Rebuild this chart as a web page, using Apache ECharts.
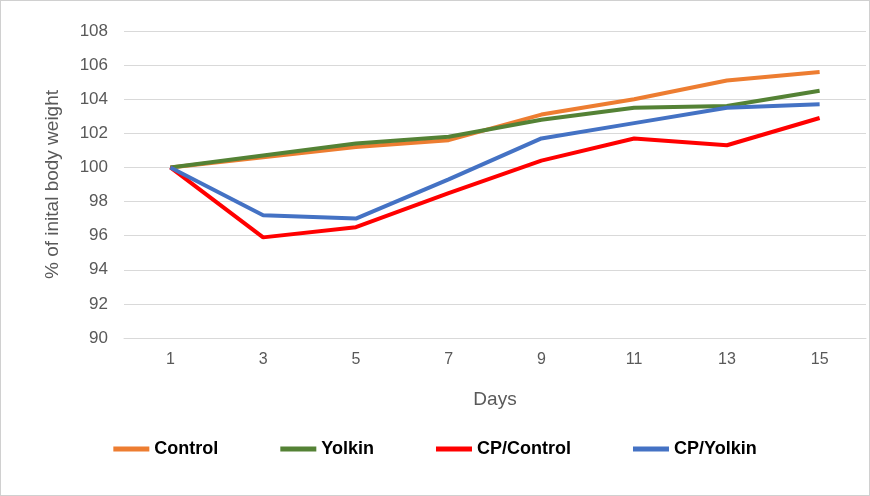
<!DOCTYPE html>
<html>
<head>
<meta charset="utf-8">
<script src="https://cdn.jsdelivr.net/npm/echarts@6/dist/echarts.min.js"></script>
<style>
  html, body { margin: 0; padding: 0; background: #fff; }
  #chart { width: 868px; height: 494px; border: 1px solid #d0d0d0; }
</style>
</head>
<body>
<div id="chart"></div>
<script>
const days = ['1', '3', '5', '7', '9', '11', '13', '15']
const control = [100, 100.6, 101.2, 101.6, 103.1, 104.0, 105.1, 105.6]
const yolkin = [100, 100.7, 101.4, 101.8, 102.8, 103.5, 103.6, 104.5]
const cpControl = [100, 95.9, 96.5, 98.5, 100.4, 101.7, 101.3, 102.9]
const cpYolkin = [100, 97.2, 97.0, 99.3, 101.7, 102.6, 103.5, 103.7]

const myChart = echarts.init(document.getElementById('chart'))
const line = (name, data, color) => ({
  name,
  type: 'line',
  data,
  symbol: 'none',
  lineStyle: { width: 4, color },
  itemStyle: { color },
})
const option = {
  animation: false,
  textStyle: { fontFamily: 'Liberation Sans, Arial, sans-serif' },
  grid: { left: 123, right: 3, top: 30, bottom: 157 },
  legend: {
    bottom: 32,
    left: 'center',
    itemGap: 62,
    itemWidth: 36,
    itemHeight: 5,
    icon: 'rect',
    textStyle: { fontSize: 18, fontWeight: 'bold', color: '#000' },
  },
  xAxis: {
    type: 'category',
    data: days,
    name: 'Days',
    nameLocation: 'middle',
    nameGap: 52,
    nameTextStyle: { fontSize: 19, color: '#595959' },
    axisLine: { lineStyle: { color: '#d9d9d9' } },
    axisTick: { show: false },
    axisLabel: { fontSize: 16, color: '#595959', margin: 14 },
  },
  yAxis: {
    type: 'value',
    min: 90,
    max: 108,
    interval: 2,
    name: '% of inital body weight',
    nameLocation: 'middle',
    nameGap: 62,
    nameTextStyle: { fontSize: 19, color: '#595959' },
    axisLabel: { fontSize: 17, color: '#595959', margin: 16 },
    splitLine: { lineStyle: { color: '#d9d9d9' } },
  },
  series: [
    line('Control', control, '#ED7D31'),
    line('Yolkin', yolkin, '#548235'),
    line('CP/Control', cpControl, '#FF0000'),
    line('CP/Yolkin', cpYolkin, '#4472C4'),
  ],
}
myChart.setOption(option)
</script>
</body>
</html>
